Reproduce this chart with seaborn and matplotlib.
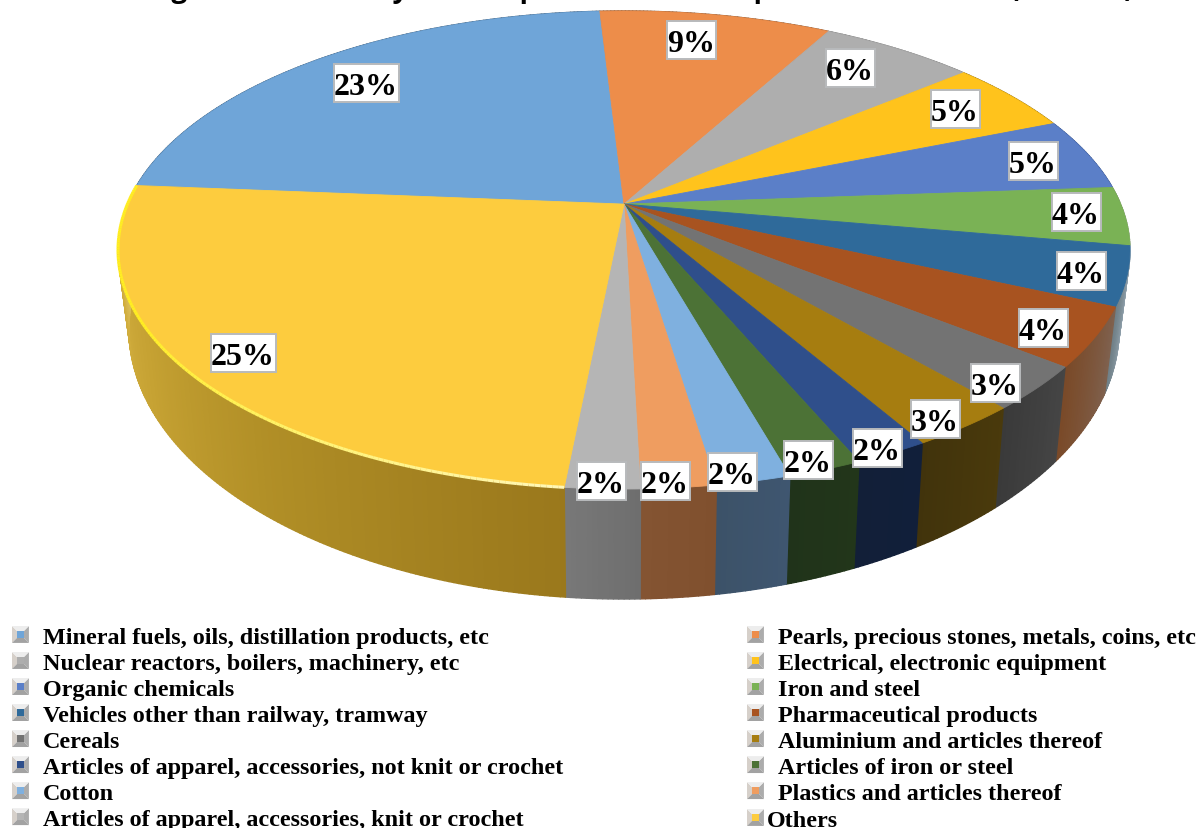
import numpy as np
import matplotlib
matplotlib.use("Agg")
import matplotlib.pyplot as plt
import seaborn as sns
from matplotlib.collections import LineCollection, PolyCollection
from matplotlib.colors import to_rgb
from matplotlib.legend_handler import HandlerBase
from matplotlib.patches import Polygon, Rectangle
from matplotlib.path import Path
from matplotlib.transforms import Affine2D, Transform

categories = [
    "Mineral fuels, oils, distillation products, etc",
    "Pearls, precious stones, metals, coins, etc",
    "Nuclear reactors, boilers, machinery, etc",
    "Electrical, electronic equipment",
    "Organic chemicals",
    "Iron and steel",
    "Vehicles other than railway, tramway",
    "Pharmaceutical products",
    "Cereals",
    "Aluminium and articles thereof",
    "Articles of apparel, accessories, not knit or crochet",
    "Articles of iron or steel",
    "Cotton",
    "Plastics and articles thereof",
    "Articles of apparel, accessories, knit or crochet",
    "Others",
]
shares = [23, 9, 6, 5, 5, 4, 4, 4, 3, 3, 2, 2, 2, 2, 2, 25]

top_colors = ["#6FA5D8", "#ED8D4A", "#AEAEAE", "#FFC31C", "#5B7FC8", "#7AB255",
              "#2F6A9A", "#A85320", "#737373", "#A67D10", "#2F4F8B", "#4C7236",
              "#7FB0DF", "#EF9D60", "#B5B5B5", "#FDCC3E"]
# Wall colour of each slice at the start and at the end of its clockwise arc
wall_colors = [("#3A5A78", "#3A5A78"), ("#845432", "#845432"), ("#777777", "#777777"),
               ("#8A6A10", "#8A6A10"), ("#2F4A80", "#2F4A80"), ("#6F8F5A", "#A8B8A0"),
               ("#A9BAC8", "#6F7F86"), ("#7F6250", "#7A4A28"), ("#454545", "#3A3A3A"),
               ("#4A3A0C", "#41330C"), ("#111F3A", "#121F38"), ("#22361A", "#20331A"),
               ("#3F5670", "#3C5268"), ("#80502E", "#845432"), ("#6E6E6E", "#787878")]
# The largest slice's wall brightens towards the left: (arc fraction, colour)
big_wall_stops = [(0.0, "#9A781C"), (0.35, "#B08E26"), (0.62, "#C6A233"), (0.82, "#D2AE3E"),
                  (0.93, "#E3CB74"), (1.0, "#F2E8BE")]

# Label anchors on the figure, listed slice by slice
label_anchor = [(366, 84), (691, 41), (850, 69), (955, 110), (1033, 162), (1076, 213),
                (1081, 272), (1043, 329), (995, 384), (935, 420), (877, 449), (808, 461),
                (732, 473), (665, 482), (601, 482), (243, 354)]
left_column = [0, 2, 4, 6, 8, 10, 12, 14]
right_column = [1, 3, 5, 7, 9, 11, 13]
other_column = [15]

TITLE = "Percentage of Commodity-wise Exports of India: Top 15 Commodities (2018-19)"


class TiltedDisc(Transform):
    """Perspective view of the unit disc, with the centre drawn off the ellipse middle."""
    input_dims = output_dims = 2

    def __init__(self, cx, cy, a, b, tilt):
        super().__init__()
        self.cx, self.cy, self.a, self.b, self.tilt = cx, cy, a, b, tilt

    def transform_non_affine(self, values):
        u, v = np.asarray(values, float).T
        d = 1 + self.tilt * v
        x = self.cx + self.a * np.sqrt(1 - self.tilt ** 2) * u / d
        y = self.cy - self.b * (v + self.tilt) / d
        return np.column_stack([x, y])

    def transform_path_non_affine(self, path):
        polys = path.transformed(Affine2D().scale(2000)).to_polygons(closed_only=True)
        pts = np.vstack(polys) / 2000
        return Path(self.transform_non_affine(pts), closed=False)


def polar(theta_deg):
    t = np.radians(theta_deg)
    return np.column_stack([np.cos(t), np.sin(t)])


def mix(c0, c1, f):
    return tuple((1 - f) * np.array(to_rgb(c0)) + f * np.array(to_rgb(c1)))


def big_wall_color(f):
    positions = [p for p, _ in big_wall_stops]
    rgb = np.array([to_rgb(c) for _, c in big_wall_stops])
    return tuple(np.interp(f, positions, rgb[:, k]) for k in range(3))


class BevelIcon(HandlerBase):
    """Small bevelled square with the slice colour in the middle."""

    def create_artists(self, legend, orig, xd, yd, w, h, fontsize, trans):
        x0, y0 = -xd, -yd
        x1, y1 = x0 + w, y0 + h
        ix0, ix1 = x0 + w * 0.3, x0 + w * 0.7
        iy0, iy1 = y0 + h * 0.3, y0 + h * 0.7
        parts = [([(x0, y0), (ix0, iy0), (ix0, iy1), (x0, y1)], "#D6D0CA"),
                 ([(x1, y0), (ix1, iy0), (ix1, iy1), (x1, y1)], "#ACACAC"),
                 ([(x0, y1), (ix0, iy1), (ix1, iy1), (x1, y1)], "#EDEDED"),
                 ([(x0, y0), (ix0, iy0), (ix1, iy0), (x1, y0)], "#A2A2A2"),
                 ([(ix0, iy0), (ix1, iy0), (ix1, iy1), (ix0, iy1)], orig.get_facecolor())]
        return [Polygon(p, closed=True, facecolor=c, edgecolor="none", transform=trans) for p, c in parts]


sns.set_theme(style="white")
plt.rcParams["font.family"] = ["Liberation Serif", "DejaVu Serif"]
palette = sns.color_palette(top_colors)

fig = plt.figure(figsize=(11.98, 8.29), dpi=100)
ax = fig.add_axes([0, 0, 1, 1])

wedges, _ = ax.pie(shares, startangle=175.3, counterclock=False, colors=palette, radius=1,
                   frame=True, wedgeprops=dict(linewidth=0.6))
ax.set_aspect("auto")
ax.set_xlim(0, 1198)
ax.set_ylim(829, 0)
ax.axis("off")

tilt = 0.192
top_face = TiltedDisc(624, 251, 506, 239, tilt)
bottom_face = TiltedDisc(624, 330, 495, 270, tilt)

for w, c in zip(wedges, palette):
    w.set_transform(top_face + ax.transData)
    w.set_edgecolor(c)
    w.set_zorder(3)

# Outer wall: thin strips between the rim of the top face and the rim of the base
strips, strip_colors = [], []
for k, w in enumerate(wedges):
    thetas = np.linspace(w.theta2, w.theta1, max(int(w.theta2 - w.theta1) * 2, 2) + 1)
    rim = top_face.transform_non_affine(polar(thetas))
    base = bottom_face.transform_non_affine(polar(thetas))
    for i in range(len(thetas) - 1):
        strips.append([rim[i], rim[i + 1], base[i + 1], base[i]])
        f = (i + 0.5) / (len(thetas) - 1)
        if k < len(wall_colors):
            strip_colors.append(mix(wall_colors[k][0], wall_colors[k][1], f))
        else:
            strip_colors.append(big_wall_color(f))
ax.add_collection(PolyCollection(strips, facecolors=strip_colors, edgecolors=strip_colors,
                                 linewidths=1.0, zorder=2))

# Bevel highlight along the rim of the largest slice
big = wedges[-1]
thetas = np.linspace(big.theta2, big.theta1, 160)
rim = top_face.transform_non_affine(polar(thetas))
segments = np.stack([rim[:-1], rim[1:]], axis=1)
glow = [mix("#FFF7B8", "#FFEE22", min(1.0, 1.6 * i / 159)) for i in range(159)]
ax.add_collection(LineCollection(segments, colors=glow, linewidths=2.2, zorder=4))

# Percentage labels in white boxes
for value, (x, y) in zip(shares, label_anchor):
    text = f"{value}%"
    width = 49 if value < 10 else 65
    ax.add_patch(Rectangle((x - width / 2, y - 19), width, 38, facecolor="white",
                           edgecolor="#B8BABC", linewidth=1.4, zorder=5))
    ax.text(x, y, text, ha="center", va="center_baseline", fontsize=23, fontweight="bold",
            color="black", zorder=6)

# Title sits almost entirely above the top edge of the figure
fig.text(47 / 1198, 1.0 + 2.5 / 829, TITLE, ha="left", va="baseline", fontsize=20.2, fontweight="bold",
         family="Open Sans", color="black")


def add_key(indices, x, top, textpad):
    handles = [Rectangle((0, 0), 1, 1, facecolor=palette[i]) for i in indices]
    labels = [categories[i] for i in indices]
    fig.legend(handles, labels, loc="upper left", bbox_to_anchor=(x / 1198, 1 - top / 829),
               bbox_transform=fig.transFigure, frameon=False, borderpad=0, borderaxespad=0,
               handlelength=0.7, handleheight=0.7, handletextpad=textpad, labelspacing=0.17,
               labelcolor="black",
               prop=dict(family="Liberation Serif", weight="bold", size=17.4),
               handler_map={Rectangle: BevelIcon()})


add_key(left_column, 12, 627, 0.58)
add_key(right_column, 747, 627, 0.58)
add_key(other_column, 747, 810, 0.12)

fig.savefig("out.png", dpi=100)
